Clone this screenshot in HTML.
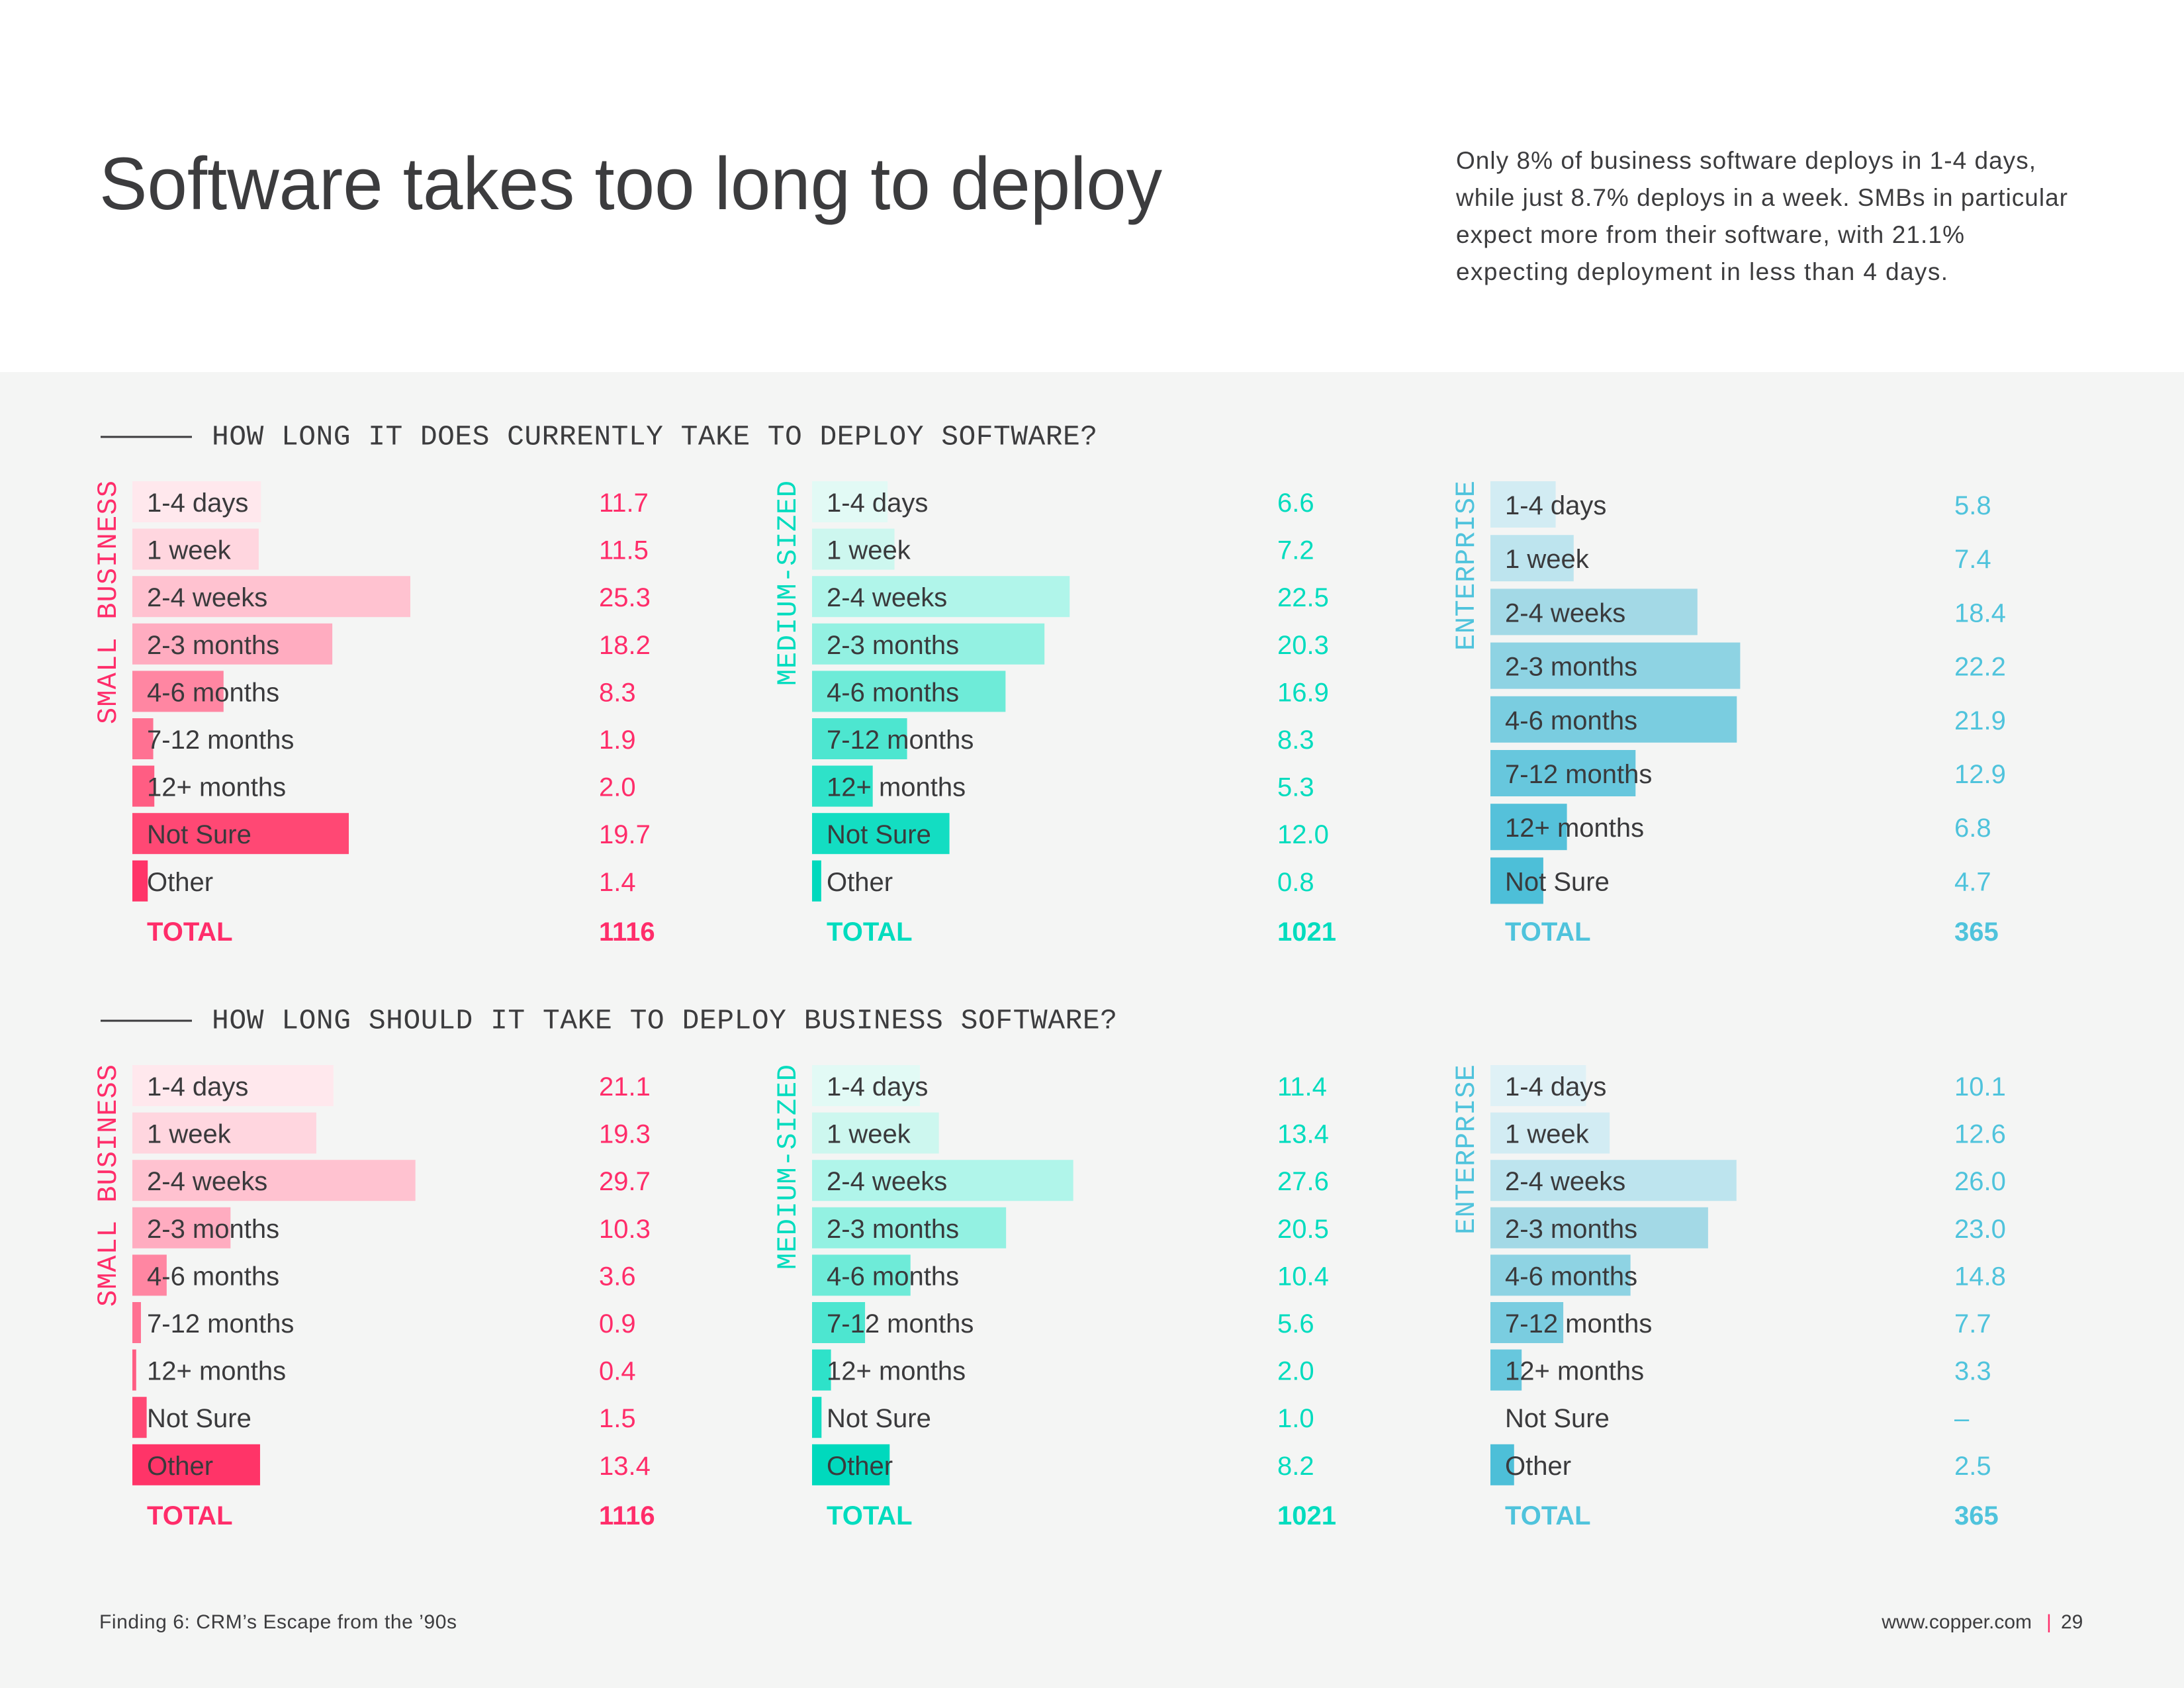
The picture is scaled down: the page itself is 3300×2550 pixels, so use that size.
<!DOCTYPE html>
<html><head><meta charset="utf-8"><style>
html,body{margin:0;padding:0;background:#fff}
svg{display:block}
</style></head><body>
<svg id="chart" width="3300" height="2550" xmlns="http://www.w3.org/2000/svg">
<rect x="0" y="0" width="3300" height="562" fill="#ffffff"/>
<rect x="0" y="562" width="3300" height="1988" fill="#f4f5f4"/>
<text x="150" y="316" font-family="Liberation Sans, sans-serif" font-size="112" textLength="1606" lengthAdjust="spacingAndGlyphs" fill="#3c3c3e">Software takes too long to deploy</text>
<g font-family="Liberation Sans, sans-serif" font-size="37" fill="#3c3c3e">
<text x="2200" y="255" textLength="876">Only 8% of business software deploys in 1-4 days,</text>
<text x="2200" y="311" textLength="924">while just 8.7% deploys in a week. SMBs in particular</text>
<text x="2200" y="367" textLength="768">expect more from their software, with 21.1%</text>
<text x="2200" y="423" textLength="743">expecting deployment in less than 4 days.</text>
</g>
<line x1="152" y1="660" x2="290" y2="660" stroke="#3c3c3e" stroke-width="3"/>
<text x="320" y="660" dominant-baseline="central" font-family="Liberation Mono, monospace" font-size="43" textLength="1338" fill="#3c3c3e">HOW LONG IT DOES CURRENTLY TAKE TO DEPLOY SOFTWARE?</text>
<line x1="152" y1="1542" x2="290" y2="1542" stroke="#3c3c3e" stroke-width="3"/>
<text x="320" y="1542" dominant-baseline="central" font-family="Liberation Mono, monospace" font-size="43" textLength="1368" fill="#3c3c3e">HOW LONG SHOULD IT TAKE TO DEPLOY BUSINESS SOFTWARE?</text>
<text x="150" y="2460" font-family="Liberation Sans, sans-serif" font-size="30" textLength="540" fill="#3c3c3e">Finding 6: CRM’s Escape from the ’90s</text>
<text x="3070" y="2460" text-anchor="end" font-family="Liberation Sans, sans-serif" font-size="30" fill="#3c3c3e">www.copper.com</text>
<text x="3092" y="2460" font-family="Liberation Sans, sans-serif" font-size="30" fill="#ff2d6a">|</text>
<text x="3114" y="2460" font-family="Liberation Sans, sans-serif" font-size="30" fill="#3c3c3e">29</text>
<g id="panels"></g>
</svg>
<script>
const catsFull = ["1-4 days","1 week","2-4 weeks","2-3 months","4-6 months","7-12 months","12+ months","Not Sure","Other"];
const catsEntTop = ["1-4 days","1 week","2-4 weeks","2-3 months","4-6 months","7-12 months","12+ months","Not Sure"];
const smallCurrent = [11.7,11.5,25.3,18.2,8.3,1.9,2.0,19.7,1.4];
const mediumCurrent = [6.6,7.2,22.5,20.3,16.9,8.3,5.3,12.0,0.8];
const entCurrent = [5.8,7.4,18.4,22.2,21.9,12.9,6.8,4.7];
const smallShould = [21.1,19.3,29.7,10.3,3.6,0.9,0.4,1.5,13.4];
const mediumShould = [11.4,13.4,27.6,20.5,10.4,5.6,2.0,1.0,8.2];
const entShould = [10.1,12.6,26.0,23.0,14.8,7.7,3.3,null,2.5];
const totals = ["1116","1021","365"];
const groupNames = ["SMALL BUSINESS","MEDIUM-SIZED","ENTERPRISE"];

const pinks = ["#ffe8ed","#ffd6df","#ffc2d0","#ffacc0","#ff86a2","#ff7192","#ff5d83","#ff4874","#ff3468"];
const teals = ["#e2faf5","#cdf7ef","#b0f5ea","#93f1e2","#6eebd8","#4de6d0","#2ee2c9","#13ddc2","#00d9bd"];
const blues = ["#dff1f6","#d2ecf3","#bde4ee","#a3d9e6","#8ed3e3","#7acde0","#67c7dd","#55c1da","#4dbfd8"];
const pal = [pinks,teals,blues];
const accent = ["#ff2d6a","#00dcbe","#4fc3dc"];

const panels = [
 {g:0,name:"small-current",cats:catsFull,vals:smallCurrent,x:200,vx:905,lx:164,y0:758,step:71.6,bh:62,unit:16.6,total:1408,lblTop:726,lblLen:368},
 {g:1,name:"medium-current",cats:catsFull,vals:mediumCurrent,x:1227,vx:1930,lx:1191,y0:758,step:71.6,bh:62,unit:17.3,total:1408,lblTop:726,lblLen:310},
 {g:2,name:"enterprise-current",cats:catsEntTop,vals:entCurrent,x:2252,vx:2953,lx:2216,y0:762,step:81.2,bh:70,unit:17.0,total:1408,lblTop:726,lblLen:257},
 {g:0,name:"small-should",cats:catsFull,vals:smallShould,x:200,vx:905,lx:164,y0:1640,step:71.6,bh:62,unit:14.4,total:2290,lblTop:1608,lblLen:366},
 {g:1,name:"medium-should",cats:catsFull,vals:mediumShould,x:1227,vx:1930,lx:1191,y0:1640,step:71.6,bh:62,unit:14.3,total:2290,lblTop:1608,lblLen:310},
 {g:2,name:"enterprise-should",cats:catsFull,vals:entShould,x:2252,vx:2953,lx:2216,y0:1640,step:71.6,bh:62,unit:14.3,total:2290,lblTop:1608,lblLen:257}
];
const NS="http://www.w3.org/2000/svg";
const root=document.getElementById("panels");
function mk(tag,attrs,txt){const e=document.createElementNS(NS,tag);for(const k in attrs)e.setAttribute(k,attrs[k]);if(txt!==undefined)e.textContent=txt;return e;}
function fmt(v){return v===null?"–":v.toFixed(1);}
panels.forEach(p=>{
 const g=mk("g",{});
 
 
 const yb=p.lblTop+p.lblLen;
 const vl=mk("text",{x:p.lx,y:yb,transform:`rotate(-90 ${p.lx} ${yb})`,"dominant-baseline":"central","font-family":"Liberation Mono, monospace","font-size":"42",fill:accent[p.g],textLength:p.lblLen},groupNames[p.g]);
 
 
 g.appendChild(vl);
 p.cats.forEach((c,i)=>{
  const yc=p.y0+p.step*i;
  const v=p.vals[i];
  const col=p.cats.length===8?pal[p.g][i+1]:pal[p.g][i];
  if(v!==null){
   const r=mk("rect",{x:p.x,y:yc-p.bh/2,width:v*p.unit,height:p.bh,fill:col});
   
   
   g.appendChild(r);
  }
  const t=mk("text",{x:p.x+22,y:yc+2,"dominant-baseline":"central","font-family":"Liberation Sans, sans-serif","font-size":"40",fill:"#3a3a3c"},c);
  
  
  g.appendChild(t);
  const vt=mk("text",{x:p.vx,y:yc+2,"dominant-baseline":"central","font-family":"Liberation Sans, sans-serif","font-size":"40",fill:accent[p.g]},fmt(v));
  
  
  g.appendChild(vt);
 });
 const tt=mk("text",{x:p.x+22,y:p.total,"dominant-baseline":"central","font-family":"Liberation Sans, sans-serif","font-size":"40","font-weight":"bold",fill:accent[p.g]},"TOTAL");
 
 
 g.appendChild(tt);
 const tv=mk("text",{x:p.vx,y:p.total,"dominant-baseline":"central","font-family":"Liberation Sans, sans-serif","font-size":"40","font-weight":"bold",fill:accent[p.g]},totals[p.g]);
 
 
 g.appendChild(tv);
 root.appendChild(g);
});
</script>
</body></html>
